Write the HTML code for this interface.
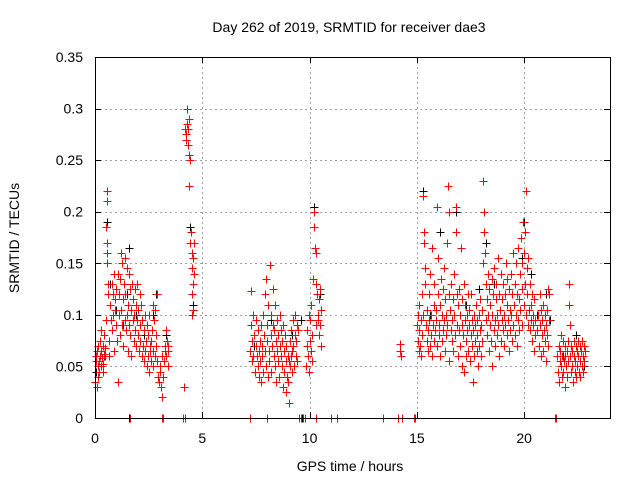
<!DOCTYPE html>
<html><head><meta charset="utf-8"><style>
body{margin:0;background:#fff}
svg{display:block;font-family:"Liberation Sans",sans-serif}
</style></head><body>
<svg id="c" width="640" height="480"></svg>
<script>
const xTicks=[0,5,10,15,20];
const yTicks=[0,0.05,0.1,0.15,0.2,0.25,0.3,0.35];
const yTickLabels=["0","0.05","0.1","0.15","0.2","0.25","0.3","0.35"];
const blackSeries=[[0.05,.045],[0.4,.06],[0.58,.19],[0.7,.13],[1.0,.105],[1.3,.09],[1.5,.12],[1.6,.165],[1.9,.1],[2.3,.08],[2.7,.1],[2.85,.12],[3.3,.08],[4.45,.185],[4.55,.11],[7.4,.07],[8.2,.095],[9.2,.08],[9.6,.095],[10.2,.205],[10.25,.165],[10.5,.12],[15.3,.22],[15.6,.1],[16.1,.18],[16.8,.2],[17.3,.11],[17.9,.125],[18.2,.17],[18.6,.13],[19.4,.14],[19.9,.155],[20.0,.19],[20.3,.14],[20.6,.1],[21.0,.12],[21.2,.095],[21.8,.06],[22.4,.08],[22.8,.05],[1.6,0],[9.65,0]];
const redSeries=[[0.05,.06],[0.08,.03],[0.1,.065],[0.12,.05],[0.15,.07],[0.18,.055],[0.2,.045],[0.22,.06],[0.25,.075],[0.28,.05],[0.3,.065],[0.32,.058],[0.35,.07],[0.38,.052],[0.4,.062],[0.42,.08],[0.45,.06],[0.47,.068],[0.5,.095],[0.52,.185],[0.54,.21],[0.55,.22],[0.56,.17],[0.57,.16],[0.58,.15],[0.6,.13],[0.62,.12],[0.63,.075],[0.65,.06],[0.02,.035],[0.03,.055],[0.15,.04],[0.27,.085],[0.36,.045],
[0.7,.11],[0.75,.095],[0.78,.13],[0.8,.085],[0.82,.12],[0.85,.1],[0.88,.065],[0.9,.14],[0.92,.105],[0.95,.115],[0.98,.09],[1.0,.125],[1.02,.075],[1.05,.035],[1.08,.14],[1.1,.1],[1.12,.12],[1.15,.08],[1.18,.135],[1.2,.16],[1.22,.105],[1.25,.09],[1.28,.15],[1.3,.115],[1.32,.07],[1.35,.13],[1.38,.095],[1.4,.155],[1.42,.12],[1.45,.085],[1.48,.145],[1.5,.1],[1.52,.065],[1.55,.11],[1.58,.09],[1.6,.14],[1.62,.125],[1.65,.08],[1.68,.105],[1.7,.06],[1.72,.13],[1.75,.095],[1.78,.115],[1.8,.075],[1.82,.1],[1.85,.125],[1.88,.085],[1.9,.07],[1.92,.11],[1.95,.095],[1.98,.13],[2.0,.08],[2.02,.105],[2.05,.065],[2.08,.12],[2.1,.09],[2.12,.075],[2.15,.11],[2.18,.06],[2.2,.095],
[2.25,.07],[2.28,.085],[2.3,.055],[2.32,.1],[2.35,.065],[2.38,.075],[2.4,.05],[2.42,.09],[2.45,.06],[2.48,.08],[2.5,.045],[2.52,.1],[2.55,.07],[2.58,.065],[2.6,.055],[2.62,.075],[2.65,.085],[2.68,.05],[2.7,.11],[2.72,.065],[2.75,.095],[2.78,.06],[2.8,.105],[2.82,.08],[2.85,.07],[2.88,.055],[2.9,.12],[2.95,.04],[3.0,.035],[3.02,.05],[3.05,.045],[3.08,.03],[3.1,.06],[3.12,.02],[3.15,.04],[3.2,.055],[3.25,.065],[3.28,.07],[3.3,.085],[3.32,.06],[3.35,.075],[3.38,.05],[3.4,.07],[3.42,.065],
[4.15,.03],[4.2,.28],[4.22,.275],[4.25,.27],[4.28,.285],[4.3,.3],[4.32,.265],[4.35,.28],[4.38,.29],[4.4,.255],[4.42,.25],[4.38,.225],[4.45,.17],[4.48,.18],[4.5,.16],[4.52,.145],[4.55,.155],[4.58,.13],[4.6,.14],[4.5,.12],[4.55,.105],[4.52,.1],[4.62,.17],
[7.2,.065],[7.25,.123],[7.28,.09],[7.3,.075],[7.32,.055],[7.35,.1],[7.38,.06],[7.4,.08],[7.45,.045],[7.5,.07],[7.52,.095],[7.55,.06],[7.58,.05],[7.6,.085],[7.62,.065],[7.65,.04],[7.68,.075],[7.7,.055],[7.72,.09],[7.75,.035],[7.78,.07],[7.8,.06],[7.82,.1],[7.85,.045],[7.88,.08],[7.9,.12],[7.92,.065],[7.95,.135],[7.98,.05],[8.0,.075],[8.02,.09],[8.05,.04],[8.08,.11],[8.1,.065],[8.12,.055],[8.15,.148],[8.18,.08],[8.2,.1],[8.22,.045],[8.25,.07],[8.28,.125],[8.3,.09],[8.32,.06],[8.35,.085],[8.38,.05],[8.4,.11],[8.42,.075],[8.45,.035],[8.48,.065],[8.5,.095],[8.52,.055],[8.55,.08],[8.58,.04],[8.6,.07],[8.62,.1],[8.65,.06],[8.68,.085],[8.7,.05],[8.72,.075],[8.75,.09],[8.78,.03],[8.8,.065],[8.82,.045],[8.85,.08],[8.88,.055],[8.9,.025],[8.92,.07],[8.95,.04],[8.98,.06],[9.0,.035],[9.02,.055],[9.05,.015],[9.08,.05],[9.1,.075],[9.12,.06],[9.15,.085],[9.18,.045],[9.2,.065],[9.22,.095],[9.25,.07],[9.28,.05],[9.3,.08],[9.32,.1],[9.35,.06],[9.38,.075],[9.4,.09],[9.42,.055],[9.45,.085],
[9.85,.05],[9.88,.07],[9.9,.085],[9.92,.06],[9.95,.1],[9.98,.045],[10.0,.075],[10.02,.095],[10.05,.065],[10.08,.11],[10.1,.055],[10.12,.08],[10.15,.135],[10.2,.2],[10.22,.185],[10.25,.165],[10.28,.13],[10.3,.16],[10.32,.09],[10.35,.12],[10.38,.1],[10.4,.095],[10.42,.115],[10.45,.08],[10.48,.125],[10.5,.09],[10.52,.07],[10.55,.105],
[14.2,.072],[14.22,.065],[14.25,.06],
[15.0,.09],[15.03,.075],[15.05,.1],[15.08,.065],[15.1,.085],[15.12,.11],[15.15,.07],[15.18,.095],[15.2,.06],[15.22,.12],[15.25,.08],[15.28,.1],[15.3,.215],[15.32,.18],[15.35,.17],[15.38,.145],[15.4,.13],[15.42,.09],[15.45,.075],[15.48,.105],[15.5,.065],[15.52,.085],[15.55,.12],[15.58,.095],[15.6,.07],[15.62,.14],[15.65,.08],[15.68,.1],[15.7,.165],[15.72,.06],[15.75,.09],[15.78,.11],[15.8,.075],[15.82,.13],[15.85,.085],[15.88,.105],[15.9,.095],[15.92,.205],[15.95,.07],[15.98,.12],[16.0,.155],[16.02,.09],[16.05,.08],[16.08,.11],[16.1,.06],[16.12,.135],[16.15,.1],[16.18,.075],[16.2,.125],[16.22,.085],[16.25,.145],[16.28,.095],[16.3,.065],[16.32,.115],[16.35,.08],[16.38,.1],[16.4,.17],[16.42,.09],[16.45,.225],[16.48,.2],[16.5,.12],[16.52,.055],[16.55,.105],[16.58,.085],[16.6,.13],[16.62,.075],[16.65,.095],[16.68,.115],[16.7,.065],[16.72,.14],[16.75,.1],[16.78,.08],[16.8,.18],[16.82,.205],[16.85,.12],[16.88,.09],[16.9,.06],[16.92,.11],[16.95,.085],[16.98,.125],[17.0,.07],[17.02,.1],[17.05,.165],[17.08,.09],[17.1,.05],[17.12,.115],[17.15,.08],[17.18,.13],[17.2,.045],[17.22,.095],[17.25,.11],[17.28,.075],[17.3,.06],[17.32,.1],[17.35,.085],[17.38,.12],[17.4,.065],[17.42,.09],[17.45,.105],[17.48,.055],[17.5,.08],[17.52,.12],[17.55,.095],[17.58,.07],[17.6,.085],[17.62,.035],[17.65,.1],[17.68,.06],[17.7,.09],[17.72,.075],[17.75,.11],[17.78,.065],[17.8,.095],[17.82,.08],[17.85,.05],[17.88,.1],[17.9,.07],[17.92,.085],[17.95,.115],[17.98,.06],
[18.0,.09],[18.02,.075],[18.05,.105],[18.08,.15],[18.1,.23],[18.12,.2],[18.15,.18],[18.18,.16],[18.2,.13],[18.22,.095],[18.25,.115],[18.28,.08],[18.3,.14],[18.32,.1],[18.35,.065],[18.38,.125],[18.4,.09],[18.42,.11],[18.45,.075],[18.48,.135],[18.5,.1],[18.52,.05],[18.55,.12],[18.58,.085],[18.6,.145],[18.62,.095],[18.65,.07],[18.68,.115],[18.7,.13],[18.72,.08],[18.75,.1],[18.78,.155],[18.8,.09],[18.82,.06],[18.85,.12],[18.88,.105],[18.9,.075],[18.92,.14],[18.95,.095],[18.98,.115],[19.0,.085],[19.02,.13],[19.05,.1],[19.08,.07],[19.1,.12],[19.12,.09],[19.15,.15],[19.18,.08],[19.2,.11],[19.22,.135],[19.25,.095],[19.28,.065],[19.3,.125],[19.32,.105],[19.35,.085],[19.38,.14],[19.4,.1],[19.42,.075],[19.45,.12],[19.48,.09],[19.5,.16],[19.52,.11],[19.55,.08],[19.58,.13],[19.6,.1],[19.62,.15],[19.65,.07],[19.68,.12],[19.7,.165],[19.72,.095],[19.75,.115],[19.78,.085],[19.8,.14],[19.82,.105],[19.85,.175],[19.88,.125],[19.9,.09],[19.92,.15],[19.95,.19],[19.98,.11],[20.0,.16],[20.02,.18],[20.05,.13],[20.08,.1],[20.1,.22],[20.12,.145],[20.15,.12],[20.18,.09],[20.2,.155],[20.22,.105],[20.25,.085],[20.28,.13],[20.3,.11],[20.32,.095],[20.35,.12],[20.38,.075],[20.4,.1],[20.42,.09],[20.45,.065],[20.48,.115],[20.5,.08],[20.52,.095],
[20.6,.085],[20.65,.1],[20.7,.07],[20.72,.12],[20.75,.09],[20.78,.06],[20.8,.105],[20.82,.08],[20.85,.095],[20.88,.065],[20.9,.11],[20.92,.085],[20.95,.075],[20.98,.1],[21.0,.055],[21.02,.09],[21.05,.08],[21.08,.105],[21.1,.125],[21.12,.07],[21.15,.095],[21.18,.12],
[21.55,.06],[21.58,.045],[21.6,.07],[21.62,.035],[21.65,.055],[21.68,.065],[21.7,.05],[21.72,.08],[21.75,.04],[21.78,.06],[21.8,.075],[21.82,.045],[21.85,.055],[21.88,.07],[21.9,.03],[21.92,.06],[21.95,.05],[21.98,.065],[22.0,.04],[22.02,.075],[22.05,.055],[22.08,.13],[22.1,.11],[22.12,.09],[22.15,.06],[22.18,.045],[22.2,.07],[22.22,.05],[22.25,.065],[22.28,.035],[22.3,.06],[22.32,.075],[22.35,.045],[22.38,.055],[22.4,.07],[22.42,.04],[22.45,.065],[22.48,.05],[22.5,.06],[22.52,.075],[22.55,.045],[22.58,.055],[22.6,.07],[22.62,.04],[22.65,.065],[22.68,.05],[22.7,.075],[22.72,.06],[22.75,.045],[22.78,.07],[22.8,.055],[22.82,.065],
[1.65,0],[3.1,0],[3.15,0],[4.1,0],[4.2,0],[7.2,0],[8.0,0],[9.5,0],[9.6,0],[9.7,0],[9.8,0],[10.3,0],[11.0,0],[11.3,0],[13.4,0],[14.1,0],[14.3,0],[14.85,0],[14.9,0],[21.45,0],[21.5,0]];

const L=95,R=610,T=57,B=418,XMAX=24,YMAX=0.35;
const xs=h=>L+(R-L)*h/XMAX;
const ys=v=>B-(B-T)*v/YMAX;
const svg=document.getElementById('c');
const NS='http://www.w3.org/2000/svg';
function mk(tag,attrs,parent){const e=document.createElementNS(NS,tag);for(const k in attrs)e.setAttribute(k,attrs[k]);(parent||svg).appendChild(e);return e;}

const grid=mk('g',{'shape-rendering':'crispEdges'});


yTicks.forEach((v,i)=>{
  const y=Math.round(ys(v))+0.5;
  if(i>0&&i<yTicks.length-1){mk('line',{x1:L,x2:R,y1:y,y2:y,stroke:'#a0a0a0','stroke-dasharray':'2,3'},grid);}
  const tk=mk('path',{d:`M${L},${y}h6M${R},${y}h-6`,stroke:'#000','shape-rendering':'crispEdges'});
  
  
  const t=mk('text',{x:L-12,y:ys(v)+5,'text-anchor':'end','font-size':'14',fill:'#000'});
  t.textContent=yTickLabels[i];
  
  
});
xTicks.forEach(h=>{
  const x=Math.round(xs(h))+0.5;
  if(h>0){mk('line',{x1:x,x2:x,y1:T,y2:B,stroke:'#a0a0a0','stroke-dasharray':'2,3'},grid);}
  const tk=mk('path',{d:`M${x},${B}v-6M${x},${T}v6`,stroke:'#000','shape-rendering':'crispEdges'});
  
  
  const t=mk('text',{x:xs(h),y:B+25,'text-anchor':'middle','font-size':'14',fill:'#000'});
  t.textContent=String(h);
  
  
});

function plot(data,color,name){
  const g=mk('g',{stroke:color,'stroke-width':'1',fill:'none','shape-rendering':'crispEdges'});
  
  
  let d='';
  data.forEach(p=>{const x=Math.round(xs(p[0]))+0.5,y=Math.round(ys(p[1]))+0.5;d+=`M${x-4},${y}h8M${x},${y-4}v8`;});
  mk('path',{d:d},g);
}
plot(blackSeries,'#000','black-series');
plot(redSeries,'#f00','red-series');

const frame=mk('rect',{x:L+0.5,y:T+0.5,width:R-L,height:B-T,fill:'none',stroke:'#000','stroke-width':'1','shape-rendering':'crispEdges'});



const title=mk('text',{x:349,y:32,'text-anchor':'middle','font-size':'14',fill:'#000'});
title.textContent='Day 262 of 2019, SRMTID for receiver dae3';


const xl=mk('text',{x:350,y:471,'text-anchor':'middle','font-size':'14',fill:'#000'});
xl.textContent='GPS time / hours';


const yl=mk('text',{x:0,y:0,'text-anchor':'middle','font-size':'14',fill:'#000',transform:'translate(19,238) rotate(-90)'});
yl.textContent='SRMTID / TECUs';


</script>
</body></html>
